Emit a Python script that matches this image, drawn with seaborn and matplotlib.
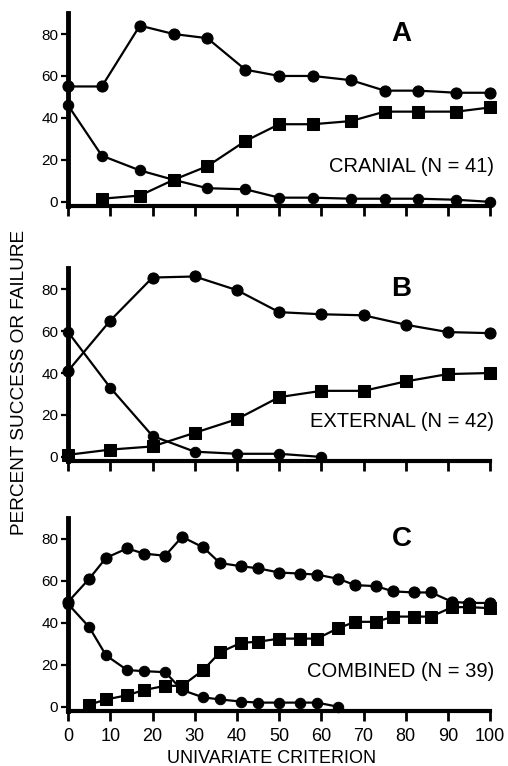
import matplotlib
matplotlib.use('Agg')
import matplotlib.pyplot as plt
import seaborn as sns

# panel A: cranial
A_X = [0, 8, 17, 25, 33, 42, 50, 58, 67, 75, 83, 92, 100]
A_UPPER = [55, 55, 84, 80, 78, 63, 60, 60, 58, 53, 53, 52, 52]
A_LOWER = [46, 22, 15, 10.5, 6.5, 6, 2, 2, 1.5, 1.5, 1.5, 1, 0]
A_SQ_X = A_X[1:]
A_SQ = [1.5, 3, 10.5, 17, 29, 37, 37, 38.5, 43, 43, 43, 45]

# panel B: external
B_X = [0, 10, 20, 30, 40, 50, 60, 70, 80, 90, 100]
B_UPPER = [41, 65, 85.5, 86, 79.5, 69, 68, 67.5, 63, 59.5, 59]
B_LOWER_X = B_X[:7]
B_LOWER = [59.5, 33, 10, 2.5, 1.5, 1.5, 0]
B_SQ = [1, 3.5, 5, 11.5, 18, 28.5, 31.5, 31.5, 36, 39.5, 40]

# panel C: combined
C_X = [0, 5, 9, 14, 18, 23, 27, 32, 36, 41, 45, 50, 55, 59, 64, 68, 73, 77, 82, 86, 91, 95, 100]
C_UPPER = [50, 61, 71, 75.5, 73, 72, 81, 76, 68.5, 67, 66, 64, 63.5, 63, 61, 58, 57.5, 55, 54.5, 54.5, 50, 49.5, 49.5]
C_LOWER_X = C_X[:15]
C_LOWER = [49, 38, 24.5, 17.5, 17, 16.5, 8, 4.5, 3.5, 2.5, 2, 2, 2, 2, 0]
C_SQ_X = C_X[1:]
C_SQ = [1, 3.5, 5.5, 8, 10, 10, 17.5, 26, 30.5, 31, 32.5, 32.5, 32.5, 37.5, 40.5, 40.5, 43, 43, 43, 47.5, 47.5, 47]

PANELS = [
  ('A', 'CRANIAL (N = 41)', (A_X, A_UPPER), (A_X, A_LOWER), (A_SQ_X, A_SQ)),
  ('B', 'EXTERNAL (N = 42)', (B_X, B_UPPER), (B_LOWER_X, B_LOWER), (B_X, B_SQ)),
  ('C', 'COMBINED (N = 39)', (C_X, C_UPPER), (C_LOWER_X, C_LOWER), (C_SQ_X, C_SQ)),
]


def draw_panel(ax, letter, label, upper, lower, squares, show_xlabels):
  line_kw = dict(color='black', linewidth=1.6, clip_on=False, markeredgecolor='black')
  sns.lineplot(x=upper[0], y=upper[1], marker='o', markersize=8, ax=ax, **line_kw)
  sns.lineplot(x=lower[0], y=lower[1], marker='o', markersize=7.5, ax=ax, **line_kw)
  sns.lineplot(x=squares[0], y=squares[1], marker='s', markersize=9, ax=ax, **line_kw)

  ax.set_xlim(0, 100)
  ax.set_ylim(-2, 90)
  ax.set_xticks(range(0, 101, 10))
  ax.set_yticks(range(0, 81, 20))
  sns.despine(ax=ax)
  ax.spines['left'].set_linewidth(3.5)
  ax.spines['bottom'].set_linewidth(3)
  ax.tick_params(axis='y', direction='out', length=5, width=1.6, labelsize=11, pad=2)
  ax.tick_params(axis='x', direction='out', length=7, width=2, labelsize=13, pad=5)
  if not show_xlabels:
    ax.set_xticklabels([])
  ax.set_xlabel('')
  ax.set_ylabel('')

  ax.text(79, 80, letter, fontsize=20, fontweight='bold', ha='center', va='center')
  ax.text(101, 16.7, label, fontsize=14.5, ha='right', va='center')


def main():
  sns.set_style('ticks', {'axes.edgecolor': 'black', 'text.color': 'black',
                          'xtick.color': 'black', 'ytick.color': 'black',
                          'axes.labelcolor': 'black'})
  plt.rcParams['font.family'] = ['Liberation Sans', 'DejaVu Sans']

  fig = plt.figure(figsize=(5.08, 7.66), dpi=100)
  bottoms = [0.731, 0.398, 0.0718]
  for i, (letter, label, upper, lower, squares) in enumerate(PANELS):
    ax = fig.add_axes([0.134, bottoms[i], 0.831, 0.252])
    draw_panel(ax, letter, label, upper, lower, squares, show_xlabels=(i == 2))

  fig.text(0.535, 0.0104, 'UNIVARIATE CRITERION', fontsize=13, ha='center', va='center')
  fig.text(0.038, 0.501, 'PERCENT SUCCESS OR FAILURE', rotation=90,
           fontsize=13.7, ha='center', va='center')

  fig.savefig('out.png', dpi=100)


if __name__ == "__main__":
  main()
